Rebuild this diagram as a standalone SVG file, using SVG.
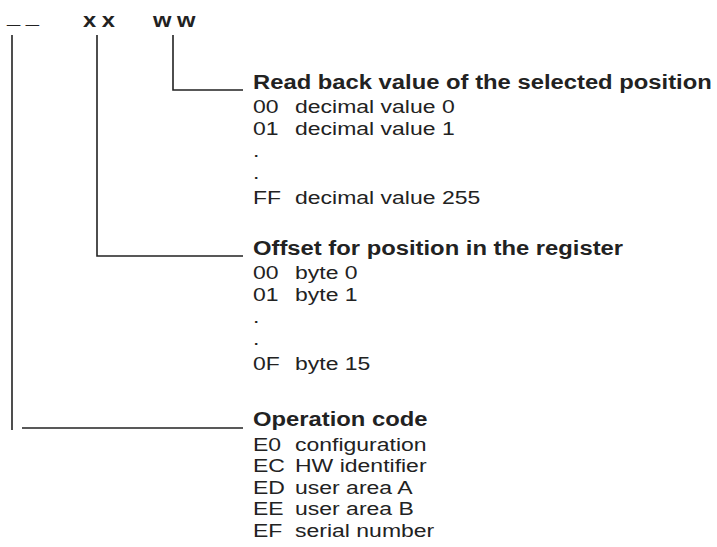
<svg xmlns="http://www.w3.org/2000/svg" width="717" height="547" viewBox="0 0 717 547">
<style>
.bg{fill:#fff}
.ln{stroke:#222;stroke-width:1.6;fill:none}
.top{font-family:"Liberation Sans",Arial,sans-serif;font-weight:bold;font-size:21px;fill:#222;letter-spacing:4.9px}
.h{font-family:"Liberation Sans",Arial,sans-serif;font-weight:bold;font-size:20.5px;fill:#222}
.b{font-family:"Liberation Sans",Arial,sans-serif;font-size:18.5px;fill:#222}
</style>
<rect class="bg" width="717" height="547"/>
<g id="fields" transform="matrix(1.13,0,0,1,0,0)">
<text class="top" x="6.19" y="23">__</text>
<text class="top" x="73.45" y="27">xx</text>
<text class="top" x="135.4" y="27">ww</text>
</g>
<g id="connectors">
<path class="ln" d="M173 35V90H243"/>
<path class="ln" d="M97 35V256H243"/>
<path class="ln" d="M12 35V430"/>
<path class="ln" d="M22 428H243"/>
</g>
<g id="readback">
<text class="h" x="253" y="89" transform="matrix(1.161,0,0,1,-40.73,0)">Read back value of the selected position</text>
<g transform="matrix(1.243,0,0,1,-61.48,0)">
<text class="b" x="253" y="113">00</text><text class="b" x="286.8" y="113">decimal value 0</text>
<text class="b" x="253" y="135">01</text><text class="b" x="286.8" y="135">decimal value 1</text>
<text class="b" x="253" y="157">.</text>
<text class="b" x="253" y="179">.</text>
<text class="b" x="253" y="204">FF</text><text class="b" x="286.8" y="204">decimal value 255</text>
</g>
</g>
<g id="offset">
<text class="h" x="253" y="255" transform="matrix(1.161,0,0,1,-40.73,0)">Offset for position in the register</text>
<g transform="matrix(1.243,0,0,1,-61.48,0)">
<text class="b" x="253" y="279">00</text><text class="b" x="286.8" y="279">byte 0</text>
<text class="b" x="253" y="301">01</text><text class="b" x="286.8" y="301">byte 1</text>
<text class="b" x="253" y="323">.</text>
<text class="b" x="253" y="345">.</text>
<text class="b" x="253" y="370">0F</text><text class="b" x="286.8" y="370">byte 15</text>
</g>
</g>
<g id="opcode">
<text class="h" x="253" y="426" transform="matrix(1.161,0,0,1,-40.73,0)">Operation code</text>
<g transform="matrix(1.243,0,0,1,-61.48,0)">
<text class="b" x="253" y="451">E0</text><text class="b" x="286.8" y="451">configuration</text>
<text class="b" x="253" y="472.5">EC</text><text class="b" x="286.8" y="472.5">HW identifier</text>
<text class="b" x="253" y="494">ED</text><text class="b" x="286.8" y="494">user area A</text>
<text class="b" x="253" y="515.5">EE</text><text class="b" x="286.8" y="515.5">user area B</text>
<text class="b" x="253" y="537">EF</text><text class="b" x="286.8" y="537">serial number</text>
</g>
</g>
</svg>
